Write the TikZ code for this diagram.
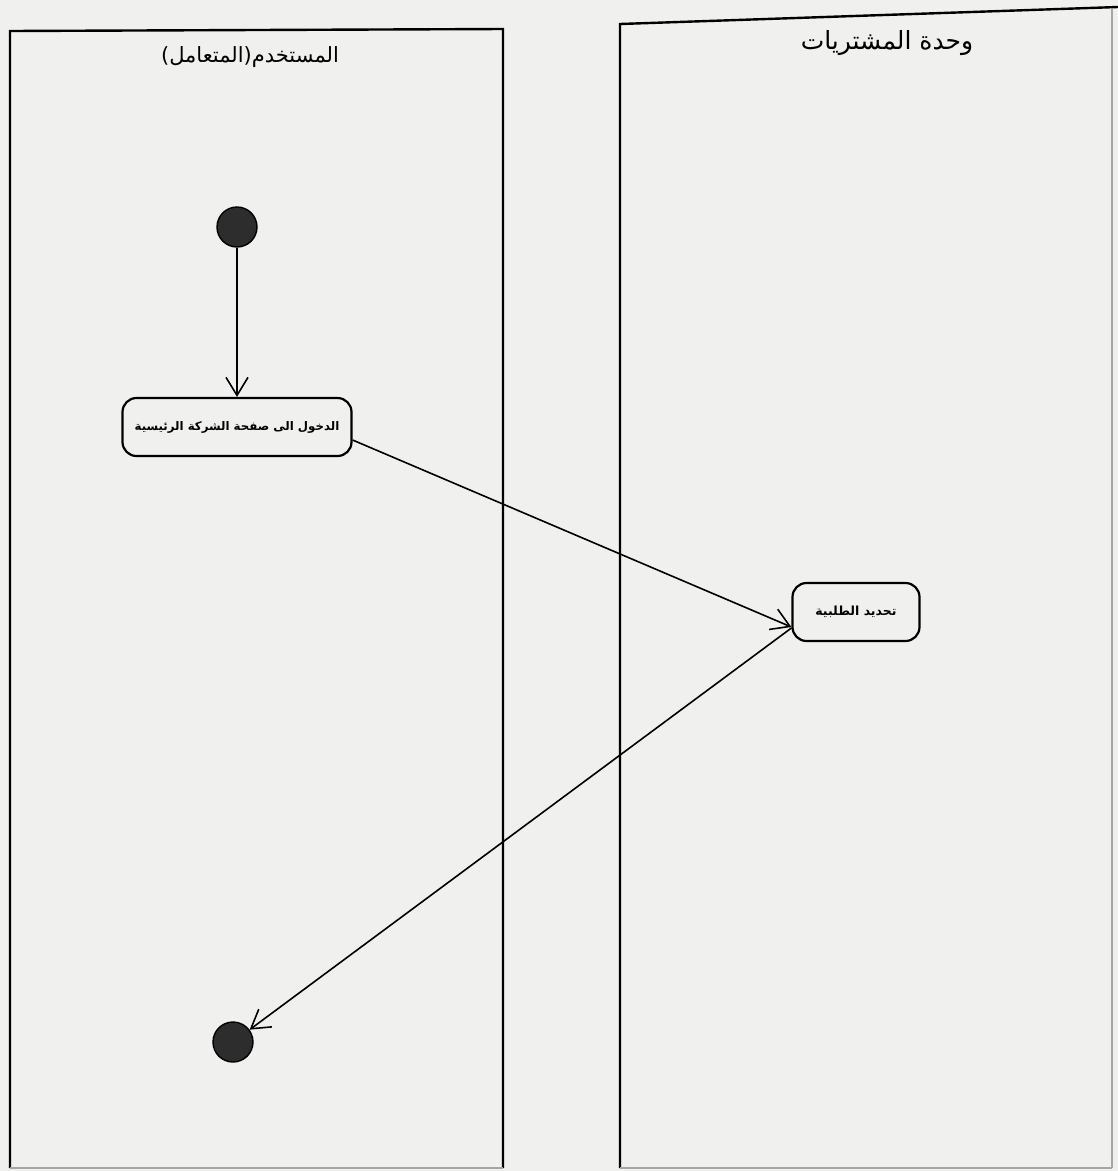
\documentclass[tikz,border=0pt]{standalone}
\usepackage{fontspec}
\newfontfamily\arabicfont[Script=Arabic]{DejaVu Sans}
\TeXXeTstate=1
\usetikzlibrary{arrows.meta}
\definecolor{paper}{RGB}{240,240,239}
\definecolor{dotc}{RGB}{45,45,45}
\begin{document}
\begin{tikzpicture}[x=1pt,y=-1pt,
  lane/.style={draw=black, line width=2.4pt},
  faint/.style={draw=black!35, line width=1.2pt},
  lanetitle/.style={font=\arabicfont\fontsize{21}{25}\selectfont},
  action/.style={draw, line width=2.2pt, rounded corners=14pt, fill=paper, font=\arabicfont\bfseries\fontsize{11.8}{14}\selectfont, minimum height=58pt, inner sep=0pt},
  dotnode/.style={circle, fill=dotc, draw=black, line width=1.4pt, minimum size=40pt, inner sep=0pt},
  flow/.style={-{Straight Barb[length=18pt,width=22pt,line width=1.6pt]}, line width=1.6pt}]
\fill[paper] (0,0) rectangle (1118,1171);
\useasboundingbox (0,0) rectangle (1118,1171);
% lanes
\draw[lane] (10,1168) -- (10,31) -- (503,29) -- (503,1168);
\draw[faint] (10,1168) -- (503,1168);
\draw[lane] (620,1168) -- (620,24) -- (1118,7);
\draw[faint] (1112,9) -- (1112,1168);
\draw[faint] (620,1168) -- (1112,1168);
% titles
\node[lanetitle] (t1) at (250,57) {\beginR المستخدم(المتعامل)\endR};
\node[lanetitle, font=\arabicfont\fontsize{25}{29}\selectfont] (t2) at (887,43) {\beginR وحدة المشتريات\endR};
% nodes
\node[dotnode] (start) at (237,227) {};
\node[action, minimum width=229pt] (a1) at (237,427) {\beginR الدخول الى صفحة الشركة الرئيسية\endR};
\node[action, minimum width=127pt, font=\arabicfont\bfseries\fontsize{12.5}{15}\selectfont] (a2) at (856,612) {\beginR تحديد الطلبية\endR};
\node[dotnode] (end) at (233,1042) {};
% connectors
\draw[flow] (start) -- (a1);
\draw[flow] ([yshift=-13pt]a1.east) -- ([yshift=-15pt]a2.west);
\draw[flow] ([yshift=-16pt]a2.west) -- (end);
\end{tikzpicture}
\end{document}
